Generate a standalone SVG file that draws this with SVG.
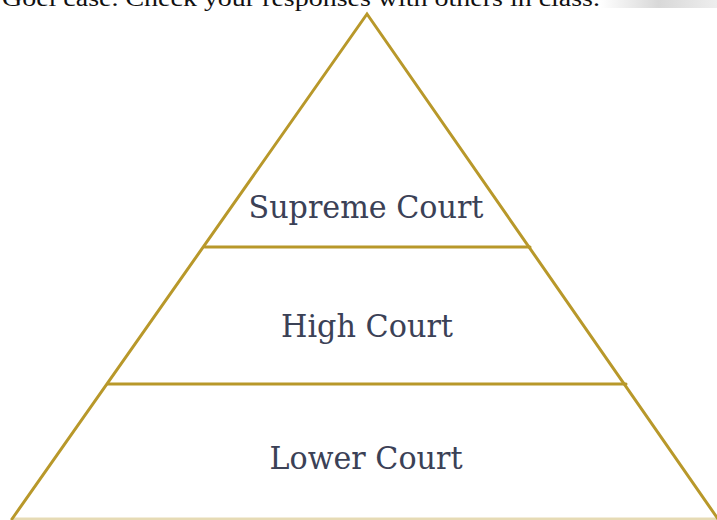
<svg xmlns="http://www.w3.org/2000/svg" width="717" height="520" viewBox="0 0 717 520">
<style>
.edge{stroke:#b8982a;stroke-width:3;fill:none;stroke-linecap:round}
.lbl{font-family:"DejaVu Serif","Liberation Serif",serif;font-size:32px;fill:#3b4156;text-anchor:middle}
</style>
<defs>
<linearGradient id="g" x1="0" x2="1" y1="0" y2="0">
<stop offset="0" stop-color="#ffffff"/>
<stop offset="0.5" stop-color="#d8d8d8"/>
<stop offset="1" stop-color="#eeeeee"/>
</linearGradient>
</defs>
<rect width="717" height="520" fill="#ffffff"/>
<rect x="600" y="0" width="117" height="8" fill="url(#g)"/>
<text x="2" y="6" font-family="Liberation Serif,serif" font-size="24" fill="#111" textLength="598" lengthAdjust="spacingAndGlyphs">Goel case. Check your responses with others in class.</text>
<g id="connectors">
<path class="edge" d="M12,519 L367,14 L718,519"/>
<line class="edge" x1="12" y1="519" x2="716" y2="519" stroke-opacity="0.35"/>
</g>
<g id="supreme">
<line class="edge" x1="205" y1="247" x2="530" y2="247"/>
<text class="lbl" x="366" y="218" textLength="235" lengthAdjust="spacingAndGlyphs">Supreme  Court</text>
</g>
<g id="high">
<line class="edge" x1="108" y1="384" x2="626" y2="384"/>
<text class="lbl" x="367" y="337" textLength="172" lengthAdjust="spacingAndGlyphs">High  Court</text>
</g>
<g id="lower">
<text class="lbl" x="366" y="469" textLength="193" lengthAdjust="spacingAndGlyphs">Lower  Court</text>
</g>
</svg>
